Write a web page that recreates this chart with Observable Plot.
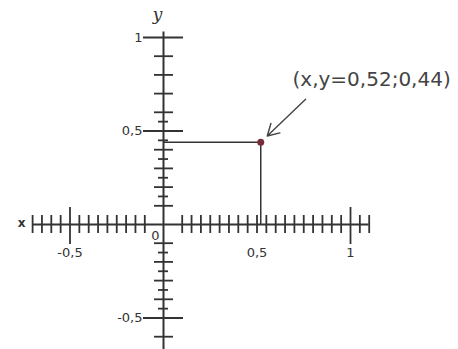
<!DOCTYPE html>
<html>
<head>
<meta charset="utf-8">
<script src="https://cdn.jsdelivr.net/npm/d3@7"></script>
<script src="https://cdn.jsdelivr.net/npm/@observablehq/plot@0.6"></script>
<style>
  html, body { margin: 0; padding: 0; background: #fff; }
  #chart svg { display: block; }
</style>
</head>
<body>
<div id="chart"></div>
<script>
// ---- data ----
const pointX = [0.52];
const pointY = [0.44];
const annotationText = ["(x,y=0,52;0,44)"];
const annotationAnchorX = [0.69];
const annotationAnchorY = [0.68];

const xAxisExtent = [-0.7, 1.1];
const yAxisExtent = [-0.68, 1.03];

const xMinorTicks = [-0.7, -0.65, -0.6, -0.55, -0.45, -0.4, -0.35, -0.3, -0.25, -0.2, -0.15, -0.1,
  0.1, 0.15, 0.2, 0.25, 0.3, 0.35, 0.4, 0.45, 0.5, 0.55, 0.6, 0.65, 0.7, 0.75, 0.8, 0.85, 0.9, 0.95, 1.05, 1.1];
const xMajorTicks = [-0.5, 1];
const xTickLabels = [{v: -0.5, t: "-0,5"}, {v: 0.5, t: "0,5"}, {v: 1, t: "1"}];

const yWideTicks = [0.9, 0.8, 0.7, 0.6, 0.4, 0.3, 0.2, 0.1, -0.1, -0.2, -0.3, -0.4, -0.6];
const ySmallTicks = [0.55, 0.45, 0.35, 0.25, 0.15, -0.15, -0.25, -0.35, -0.45];
const yMajorTicks = [1, 0.5, -0.5];
const yTickLabels = [{v: 1, t: "1"}, {v: 0.5, t: "0,5"}, {v: -0.5, t: "-0,5"}];

// ---- scales ----
const W = 458, H = 349;
const xDomain = [-163 / 187, (W - 163) / 187];
const yDomain = [(224 - H) / 187, 224 / 187];
const u = 1 / 187; // data units per pixel

const ink = "#333";
const font = "DejaVu Sans, Verdana, sans-serif";

const chart = Plot.plot({
  width: W,
  height: H,
  margin: 0,
  x: {domain: xDomain, axis: null},
  y: {domain: yDomain, axis: null},
  style: {background: "#fff", fontFamily: font},
  marks: [
    // axis lines
    Plot.ruleY([0], {x1: xAxisExtent[0], x2: xAxisExtent[1], stroke: ink, strokeWidth: 2}),
    Plot.ruleX([0], {y1: yAxisExtent[0], y2: yAxisExtent[1], stroke: ink, strokeWidth: 2}),
    // x ticks
    Plot.ruleX(xMinorTicks, {x: d => d, y1: -9 * u, y2: 9 * u, stroke: ink, strokeWidth: 1.8}),
    Plot.ruleX(xMajorTicks, {x: d => d, y1: -20 * u, y2: 17 * u, stroke: ink, strokeWidth: 1.8}),
    // y ticks
    Plot.ruleY(yWideTicks, {y: d => d, x1: -9 * u, x2: 10 * u, stroke: ink, strokeWidth: 1.8}),
    Plot.ruleY(ySmallTicks, {y: d => d, x1: -5 * u, x2: 5 * u, stroke: ink, strokeWidth: 1.8}),
    Plot.ruleY(yMajorTicks, {y: d => d, x1: -20 * u, x2: 20 * u, stroke: ink, strokeWidth: 1.8}),
    // tick labels
    Plot.text(xTickLabels, {x: "v", y: 0, text: "t", dy: 28, fontSize: 13, fill: ink, fontFamily: font}),
    Plot.text(yTickLabels, {x: 0, y: "v", text: "t", dx: -21, textAnchor: "end", fontSize: 13, fill: ink, fontFamily: font}),
    Plot.text(["0"], {x: 0, y: 0, text: d => d, dx: -8, dy: 11, fontSize: 13, fill: ink, fontFamily: font}),
    // axis names
    Plot.text(["y"], {x: 0, y: yAxisExtent[1], text: d => d, dx: -6, dy: -17, fontSize: 17, fontStyle: "italic", fill: ink, fontFamily: "DejaVu Serif, serif"}),
    Plot.text(["x"], {x: xAxisExtent[0], y: 0, text: d => d, dx: -11, dy: -1, fontSize: 12, fontWeight: "bold", fill: ink, fontFamily: font}),
    // guide lines to the point
    Plot.ruleY(pointY, {y: d => d, x1: 0, x2: pointX[0], stroke: ink, strokeWidth: 1.5}),
    Plot.ruleX(pointX, {x: d => d, y1: 0, y2: pointY[0], stroke: ink, strokeWidth: 1.5}),
    // point
    Plot.dot(pointX.map((x, i) => ({x, y: pointY[i]})), {x: "x", y: "y", r: 3.5, fill: "#7a2b3a", stroke: "none"}),
    // annotation arrow and label
    Plot.arrow([0], {
      x1: () => annotationAnchorX[0] + 0.07, y1: () => annotationAnchorY[0] - 0.01,
      x2: pointX[0], y2: pointY[0], insetEnd: 9, headLength: 14, stroke: "#444", strokeWidth: 1.4
    }),
    Plot.text(annotationText, {x: annotationAnchorX[0], y: annotationAnchorY[0], text: d => d, dy: -11, textAnchor: "start", lineAnchor: "bottom", fontSize: 20, fill: "#444", fontFamily: font})
  ]
});
document.getElementById("chart").append(chart);
</script>
</body>
</html>
